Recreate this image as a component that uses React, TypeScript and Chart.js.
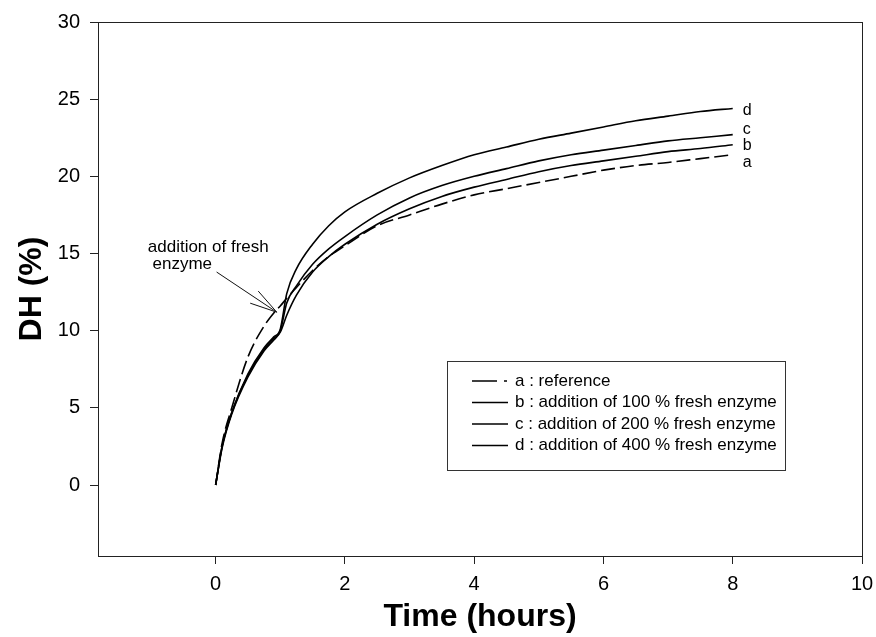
import React, { useEffect, useRef } from "react";
import { Chart, registerables } from "chart.js";

Chart.register(...registerables);

// ---- data ----
const hours = [0, 0.1, 0.25, 0.5, 0.75, 0.9, 1.0, 1.1, 1.25, 1.5, 1.75, 2, 2.5, 3, 3.5, 4, 4.5, 5, 5.5, 6, 6.5, 7, 7.5, 8];
const seriesA = [0, 2.7, 5.0, 8.3, 10.3, 11.15, 11.6, 12.1, 12.8, 13.9, 14.8, 15.5, 16.8, 17.5, 18.2, 18.8, 19.2, 19.6, 20.0, 20.4, 20.7, 20.9, 21.15, 21.4];
const seriesB = [0, 2.4, 4.6, 7.0, 8.7, 9.4, 9.9, 11.0, 12.3, 13.8, 14.8, 15.6, 16.9, 17.9, 18.7, 19.3, 19.8, 20.3, 20.7, 21.0, 21.3, 21.6, 21.8, 22.05];
const seriesC = [0, 2.5, 4.7, 7.1, 8.8, 9.5, 10.0, 11.8, 12.9, 14.3, 15.3, 16.1, 17.5, 18.6, 19.4, 20.0, 20.5, 21.0, 21.4, 21.7, 22.0, 22.3, 22.5, 22.7];
const seriesD = [0, 2.5, 4.7, 7.2, 8.9, 9.6, 10.1, 12.4, 14.0, 15.6, 16.8, 17.7, 18.9, 19.9, 20.7, 21.4, 21.9, 22.4, 22.8, 23.2, 23.6, 23.9, 24.2, 24.4];
const seriesKeys = ["a", "b", "c", "d"];
const legendLabels = [
  "a : reference",
  "b : addition of 100 % fresh enzyme",
  "c : addition of 200 % fresh enzyme",
  "d : addition of 400 % fresh enzyme",
];
const xTicks = [0, 2, 4, 6, 8, 10];
const yTicks = [0, 5, 10, 15, 20, 25, 30];
const annotationLines = ["addition of fresh", " enzyme"];
const arrowTail = { x: 0.015, y: 13.8 };
const arrowTip = { x: 0.945, y: 11.2 };

const FONT = '"Liberation Sans", Arial, Helvetica, sans-serif';

const allSeries = [seriesA, seriesB, seriesC, seriesD];
const endLabelOffsets = [8, 1, -5, 2];

const overlayPlugin = {
  id: "overlay",
  afterDatasetsDraw(chart: any) {
    const { ctx, chartArea: ca, scales } = chart;
    const xs = scales.x;
    const ys = scales.y;
    ctx.save();
    // frame
    ctx.strokeStyle = "#222";
    ctx.lineWidth = 1;
    ctx.strokeRect(Math.round(ca.left) + 0.5, Math.round(ca.top) + 0.5, Math.round(ca.right - ca.left), Math.round(ca.bottom - ca.top));

    // end labels
    ctx.fillStyle = "#000";
    ctx.font = `16px ${FONT}`;
    ctx.textAlign = "left";
    ctx.textBaseline = "middle";
    allSeries.forEach((s, i) => {
      const last = s.length - 1;
      const px = xs.getPixelForValue(hours[last]) + 10;
      const py = ys.getPixelForValue(s[last]) + endLabelOffsets[i];
      ctx.fillText(seriesKeys[i], px, py);
    });

    // annotation text
    ctx.font = `17px ${FONT}`;
    ctx.textBaseline = "alphabetic";
    const tx = xs.getPixelForValue(-1.05);
    ctx.fillText(annotationLines[0], tx, ys.getPixelForValue(15.1));
    ctx.fillText(annotationLines[1], tx, ys.getPixelForValue(14.0));

    // arrow
    const x0 = xs.getPixelForValue(arrowTail.x);
    const y0 = ys.getPixelForValue(arrowTail.y);
    const x1 = xs.getPixelForValue(arrowTip.x);
    const y1 = ys.getPixelForValue(arrowTip.y);
    ctx.strokeStyle = "#111";
    ctx.lineWidth = 1;
    ctx.beginPath();
    ctx.moveTo(x0, y0);
    ctx.lineTo(x1, y1);
    const ang = Math.atan2(y0 - y1, x0 - x1);
    const hl = 28;
    const spread = (15 * Math.PI) / 180;
    ctx.moveTo(x1, y1);
    ctx.lineTo(x1 + hl * Math.cos(ang + spread), y1 + hl * Math.sin(ang + spread));
    ctx.moveTo(x1, y1);
    ctx.lineTo(x1 + hl * Math.cos(ang - spread), y1 + hl * Math.sin(ang - spread));
    ctx.stroke();

    // legend box
    const bx = 447, by = 361, bw = 338, bh = 109;
    ctx.strokeStyle = "#333";
    ctx.strokeRect(bx + 0.5, by + 0.5, bw, bh);
    ctx.font = `17px ${FONT}`;
    ctx.textBaseline = "middle";
    ctx.fillStyle = "#000";
    const rowY = [381, 402.5, 424, 445.5];
    legendLabels.forEach((lab, i) => {
      const ry = rowY[i];
      ctx.strokeStyle = "#000";
      ctx.lineWidth = 1.6;
      ctx.beginPath();
      if (i === 0) {
        ctx.moveTo(472, ry);
        ctx.lineTo(497, ry);
        ctx.moveTo(504, ry);
        ctx.lineTo(507, ry);
      } else {
        ctx.moveTo(472, ry);
        ctx.lineTo(508, ry);
      }
      ctx.stroke();
      ctx.fillText(lab, 515, ry);
    });
    ctx.restore();
  },
};

export default function App() {
  const ref = useRef<HTMLCanvasElement | null>(null);
  useEffect(() => {
    if (!ref.current) return;
    const mk = (s: number[]) => hours.map((h, i) => ({ x: h, y: s[i] }));
    const chart = new Chart(ref.current, {
      type: "line",
      data: {
        datasets: allSeries.map((s, i) => ({
          label: legendLabels[i],
          data: mk(s),
          borderColor: "#000",
          borderWidth: 1.6,
          borderDash: i === 0 ? [14, 5] : [],
          pointRadius: 0,
          fill: false,
          cubicInterpolationMode: "monotone" as const,
        })),
      },
      options: {
        animation: false,
        responsive: false,
        maintainAspectRatio: false,
        devicePixelRatio: 1,
        layout: { padding: { top: 22, right: 14, left: 0, bottom: 0 } },
        plugins: { legend: { display: false }, tooltip: { enabled: false } },
        scales: {
          x: {
            type: "linear",
            min: -1.82,
            max: 10,
            afterBuildTicks: (s: any) => {
              s.ticks = xTicks.map((v) => ({ value: v }));
            },
            afterFit: (s: any) => {
              s.height = 81;
              s.paddingLeft = 0;
              s.paddingRight = 0;
            },
            grid: { drawOnChartArea: false, drawTicks: true, tickLength: 8, color: "#222" },
            border: { display: false },
            ticks: { color: "#000", font: { family: FONT, size: 20 }, padding: 8, maxRotation: 0, autoSkip: false },
            title: {
              display: true,
              text: "Time (hours)",
              color: "#000",
              font: { family: FONT, size: 32, weight: "bold" },
              padding: { top: 0, bottom: 1 },
            },
          },
          y: {
            type: "linear",
            min: -4.6,
            max: 30,
            afterBuildTicks: (s: any) => {
              s.ticks = yTicks.map((v) => ({ value: v }));
            },
            afterFit: (s: any) => {
              s.width = 98;
              s.paddingTop = 0;
              s.paddingBottom = 0;
            },
            grid: { drawOnChartArea: false, drawTicks: true, tickLength: 8, color: "#222" },
            border: { display: false },
            ticks: { color: "#000", font: { family: FONT, size: 20 }, padding: 10, autoSkip: false },
            title: {
              display: true,
              text: "DH (%)",
              color: "#000",
              font: { family: FONT, size: 32, weight: "bold" },
              padding: { top: 13, bottom: 0 },
            },
          },
        },
      },
      plugins: [overlayPlugin],
    } as any);
    return () => chart.destroy();
  }, []);
  return (
    <div style={{ position: "fixed", left: 0, top: 0, width: 876, height: 637, background: "#fff" }}>
      <canvas ref={ref} width={876} height={637} style={{ width: 876, height: 637, display: "block" }} />
    </div>
  );
}
